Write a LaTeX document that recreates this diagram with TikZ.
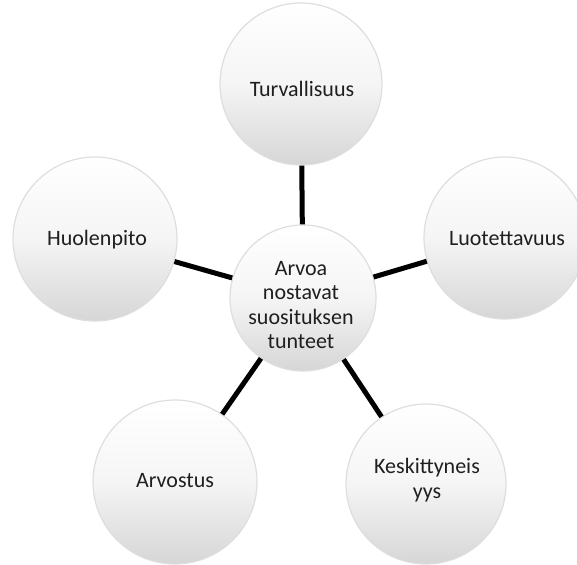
\documentclass[tikz,border=0pt]{standalone}
\usepackage{fontspec}
\setmainfont{Carlito}
\begin{document}
\begin{tikzpicture}[x=1pt,y=-1pt,
  bubble/.style={circle, inner sep=0pt, draw=black!13, line width=1.2pt,
    top color=white, bottom color=black!16, middle color=black!4},
  lbl/.style={align=center, inner sep=0pt, font=\fontsize{22}{24.5}\selectfont, text=black!88},
  conn/.style={line width=5pt, black}]
\path[use as bounding box] (0,0) rectangle (577,564);
\node[bubble, minimum size=146pt] (c) at (303,298) {};
\node[bubble, minimum size=162pt] (t) at (301,84) {};
\node[bubble, minimum size=164pt] (l) at (95,239) {};
\node[bubble, minimum size=162pt] (r) at (505,238) {};
\node[bubble, minimum size=164pt] (bl) at (175,482) {};
\node[bubble, minimum size=160pt] (br) at (426,484) {};
\node[lbl] (ct) at (301,305) {Arvoa\\nostavat\\suosituksen\\tunteet};
\node[lbl] (tt) at (302,89) {Turvallisuus};
\node[lbl] (lt) at (97,240) {Huolenpito};
\node[lbl] (rt) at (507,239) {Luotettavuus};
\node[lbl] (blt) at (175,481) {Arvostus};
\node[lbl] (brt) at (427,480) {Keskittyneis\\yys};
\draw[conn] (c) -- (t);
\draw[conn] (c) -- (l);
\draw[conn] (c) -- (r);
\draw[conn] (c) -- (bl);
\draw[conn] (c) -- (br);
\end{tikzpicture}
\end{document}
